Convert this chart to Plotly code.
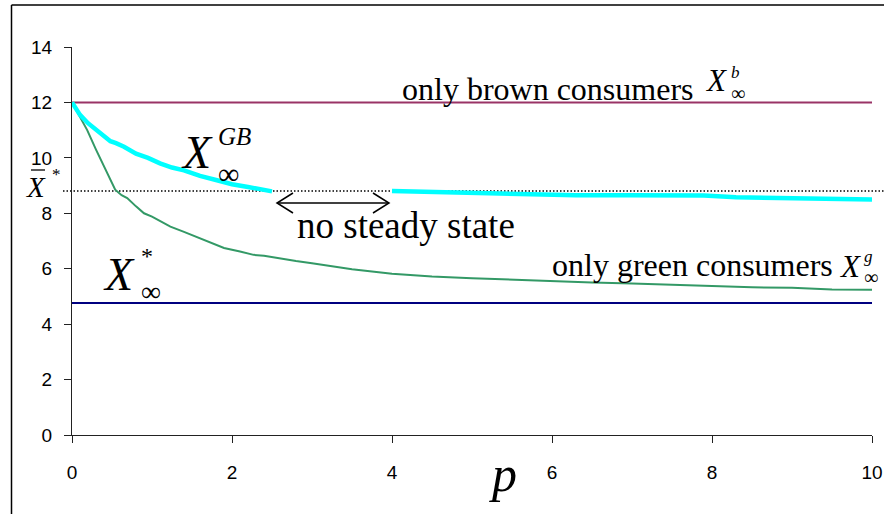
import plotly.graph_objects as go

# ---------------- data ----------------
p_green = [0, 0.1, 0.19, 0.3, 0.42, 0.54, 0.62, 0.69, 0.8, 0.9, 1.0, 1.23, 1.4, 1.6, 1.9, 2.1, 2.27, 2.4, 2.6, 2.8, 3.0,
           3.5, 4.0, 4.5, 5.0, 5.5, 6.0, 6.5, 7.0, 7.5, 8.0, 8.5, 9.0, 9.5, 10.0]
x_green = [12, 11.5, 11.0, 10.3, 9.6, 8.85, 8.65, 8.55, 8.25, 8.0, 7.88, 7.52, 7.33, 7.1, 6.75, 6.62, 6.5, 6.47, 6.37,
           6.28, 6.2, 5.98, 5.82, 5.72, 5.66, 5.6, 5.55, 5.5, 5.47, 5.42, 5.36, 5.33, 5.31, 5.25, 5.24]

p_gb1 = [0, 0.1, 0.2, 0.35, 0.48, 0.55, 0.65, 0.8, 0.95, 1.1, 1.25, 1.4, 1.6, 1.8, 2.0, 2.2, 2.5]
x_gb1 = [12, 11.55, 11.25, 10.9, 10.6, 10.53, 10.4, 10.15, 10.0, 9.8, 9.65, 9.55, 9.35, 9.2, 9.05, 8.95, 8.79]

p_gb2 = [4.0, 4.5, 5.0, 5.5, 6.0, 6.3, 7.0, 7.9, 8.3, 9.1, 9.5, 10.0]
x_gb2 = [8.8, 8.77, 8.74, 8.72, 8.7, 8.65, 8.65, 8.64, 8.58, 8.56, 8.51, 8.5]

p_flat = [0, 10]
x_brown = [12, 12]
x_star = [4.76, 4.76]
x_bar_star = 8.8

x_ticks = [0, 2, 4, 6, 8, 10]
y_ticks = [0, 2, 4, 6, 8, 10, 12, 14]

# ---------------- layout geometry ----------------
W, H = 884, 514
L, R, T, B = 72, 12, 47, 79
PW, PH = W - L - R, H - T - B

def px(x):
    return (x - L) / PW

def py(y):
    return (H - B - y) / PH

SERIF = "Liberation Serif"
SANS = "Liberation Sans"

fig = go.Figure()
fig.add_trace(go.Scatter(x=p_flat, y=x_brown, mode="lines", line=dict(color="#993366", width=2), hoverinfo="skip"))
fig.add_trace(go.Scatter(x=p_flat, y=x_star, mode="lines", line=dict(color="#000080", width=2), hoverinfo="skip"))
fig.add_trace(go.Scatter(x=p_green, y=x_green, mode="lines", line=dict(color="#339966", width=2), hoverinfo="skip"))
fig.add_trace(go.Scatter(x=p_gb1, y=x_gb1, mode="lines", line=dict(color="#00FFFF", width=4.5), hoverinfo="skip"))
fig.add_trace(go.Scatter(x=p_gb2, y=x_gb2, mode="lines", line=dict(color="#00FFFF", width=4.5), hoverinfo="skip"))

shapes = []
# frame (left + top)
shapes.append(dict(type="line", xref="paper", yref="paper", x0=px(11.5), x1=px(11.5), y0=py(5), y1=py(520),
                   line=dict(color="black", width=1.5)))
shapes.append(dict(type="line", xref="paper", yref="paper", x0=px(11.5), x1=px(890), y0=py(5), y1=py(5),
                   line=dict(color="black", width=1.5)))
# dotted X-bar* level
shapes.append(dict(type="line", xref="paper", yref="y", x0=px(63), x1=px(884), y0=x_bar_star, y1=x_bar_star,
                   line=dict(color="black", width=1.5, dash="1.5px,2px"), layer="below"))
# double arrow
ay = 203
shapes.append(dict(type="line", xref="paper", yref="paper", x0=px(277), x1=px(389), y0=py(ay), y1=py(ay),
                   line=dict(color="black", width=1.5)))
for tip, end in [(277, 293), (389, 373)]:
    shapes.append(dict(type="path", xref="paper", yref="paper",
                       path=f"M {px(end)} {py(ay-10)} L {px(tip)} {py(ay)} L {px(end)} {py(ay+10)}",
                       line=dict(color="black", width=1.5)))
# overline of X-bar
shapes.append(dict(type="line", xref="paper", yref="paper", x0=px(31), x1=px(45), y0=py(170), y1=py(170),
                   line=dict(color="black", width=1.3)))

annotations = []

def txt(x_left, baseline, text, size, anchor="left"):
    cy = baseline - 0.3375 * size
    annotations.append(dict(xref="paper", yref="paper", x=px(x_left), y=py(cy), text=text, showarrow=False,
                            xanchor=anchor, yanchor="middle", font=dict(family=SERIF, size=size, color="black")))

def supsub(x_left, base1, sup, sup_size, sub, sub_size, size):
    # two stacked lines (superscript over subscript) in one text box
    base2 = base1 + 1.3 * size
    cy = (base1 - 0.891 * size + base2 + 0.216 * size) / 2
    text = f'<span style="font-size:{sup_size}px">{sup}</span><br><span style="font-size:{sub_size}px">{sub}</span>'
    annotations.append(dict(xref="paper", yref="paper", x=px(x_left), y=py(cy), text=text, showarrow=False,
                            xanchor="left", yanchor="middle", align="left",
                            font=dict(family=SERIF, size=size, color="black")))

txt(400, 100, "only brown consumers", 32)
txt(703, 91, "<i>X</i>", 31)
supsub(729, 78, "<i>b</i>", 17, "∞", 20, 17)

txt(295, 238, "no steady state", 37)

txt(550, 276, "only green consumers", 32)
txt(837, 277, "<i>X</i>", 31)
supsub(862, 262, "<i>g</i>", 17, "∞", 20, 17)

txt(179, 168, "<i>X</i>", 46)
supsub(216, 147, "<i>GB</i>", 25, "∞", 30, 30)

txt(101, 290, "<i>X</i>", 46)
supsub(139, 266, "*", 24, "∞", 28, 28.5)

txt(24, 197, "<i>X</i>", 29)
txt(50, 180, "*", 17)

txt(487, 491, "<i>p</i>", 50)

fig.update_layout(
    width=W, height=H,
    margin=dict(l=L, r=R, t=T, b=B),
    paper_bgcolor="white", plot_bgcolor="white",
    showlegend=False,
    shapes=shapes, annotations=annotations,
    xaxis=dict(range=[0, 10], tickvals=x_ticks, ticks="outside", ticklen=7, tickcolor="#222", showline=True,
               linecolor="#222", linewidth=1, showgrid=False, zeroline=False, automargin=False,
               tickfont=dict(family=SANS, size=19, color="black"), ticklabelstandoff=13),
    yaxis=dict(range=[0, 14], tickvals=y_ticks, ticks="outside", ticklen=7, tickcolor="#222", showline=True,
               linecolor="#222", linewidth=1, showgrid=False, zeroline=False, automargin=False,
               tickfont=dict(family=SANS, size=19, color="black"), ticklabelstandoff=8),
)

fig.write_html("out.html")
